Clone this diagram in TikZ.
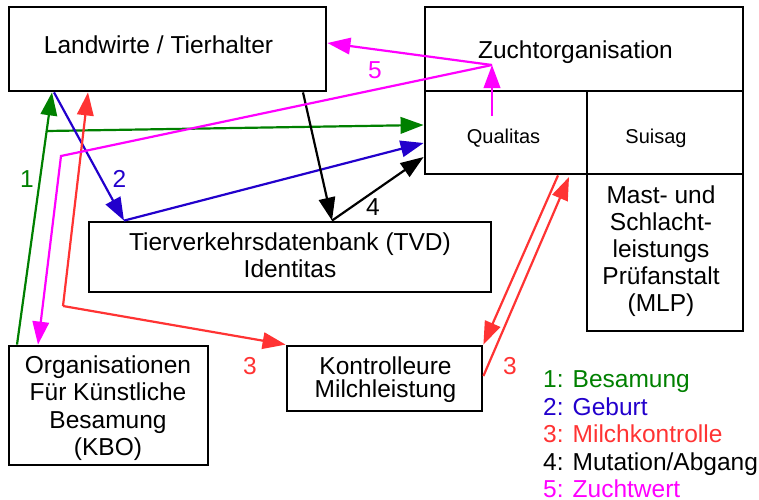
\documentclass[tikz,border=0pt]{standalone}
\usepackage{fontspec}
\setmainfont{Liberation Sans}
\usetikzlibrary{arrows.meta}
\definecolor{cgreen}{RGB}{0,128,0}
\definecolor{cblue}{RGB}{34,0,204}
\definecolor{cred}{RGB}{255,51,51}
\definecolor{cmag}{RGB}{255,0,255}
\begin{document}
\begin{tikzpicture}[x=1pt,y=-1pt,
  box/.style={draw,line width=2.8pt,inner sep=0pt,rectangle},
  txt/.style={font=\fontsize{24.5}{27.5}\selectfont,align=center,inner sep=0pt},
  smalltxt/.style={font=\fontsize{20}{24}\selectfont,inner sep=0pt},
  conn/.style={line width=2.2pt,-{Triangle[length=23pt,width=16.5pt]}},
  numlbl/.style={font=\fontsize{24.5}{27.5}\selectfont,inner sep=0pt},
]
\useasboundingbox (0,0) rectangle (759,499);
% boxes
\node[box,minimum width=317pt,minimum height=84pt] (lw) at (167.5,49) {};
\node[box,minimum width=318pt,minimum height=84pt] (zo) at (584,49) {};
\node[box,minimum width=162pt,minimum height=83pt] (qual) at (506,132.5) {};
\node[box,minimum width=156pt,minimum height=83pt] (sui) at (665,132.5) {};
\node[box,minimum width=156pt,minimum height=157pt] (mlp) at (665,252.5) {};
\node[box,minimum width=402pt,minimum height=70pt] (tvd) at (290,257) {};
\node[box,minimum width=199pt,minimum height=119pt] (kbo) at (108.5,405.5) {};
\node[box,minimum width=195pt,minimum height=65pt] (kon) at (384.5,378.5) {};
% texts
\node[txt,anchor=base] (lwt) at (158.5,53) {Landwirte / Tierhalter};
\node[txt,anchor=base] (zot) at (575.5,58) {Zuchtorganisation};
\node[smalltxt,anchor=base] (qualt) at (503.5,143) {Qualitas};
\node[smalltxt,anchor=base] (suit) at (656,143) {Suisag};
\node[txt,font=\fontsize{24.5}{27}\selectfont] (mlpt) at (661,250.8) {Mast- und\\Schlacht-\\leistungs\\Prüfanstalt\\(MLP)};
\node[txt,font=\fontsize{24.5}{27}\selectfont] (tvdt) at (290,254.9) {Tierverkehrsdatenbank (TVD)\\Identitas};
\node[txt] (kbot) at (108,408) {Organisationen\\Für Künstliche\\Besamung\\(KBO)};
\node[txt,font=\fontsize{24.5}{23.5}\selectfont] (kont) at (385.5,379.5) {Kontrolleure\\Milchleistung};
\node[txt,align=left,anchor=west] (legend) at (543,434.4) {\textcolor{cgreen}{1: Besamung}\\\textcolor{cblue}{2: Geburt}\\\textcolor{cred}{3: Milchkontrolle}\\\textcolor{black}{4: Mutation/Abgang}\\\textcolor{cmag}{5: Zuchtwert}};
% coordinates
\coordinate (gS) at (17,344.6);
\coordinate (gT) at (52,92.4);
\coordinate (gB) at (46.7,131);
\coordinate (gQ) at (423.6,125);
\coordinate (bS) at (54,92.4);
\coordinate (bA) at (124,220.6);
\coordinate (bQ) at (423.6,143);
\coordinate (kS) at (303,92.4);
\coordinate (kA) at (332,220.6);
\coordinate (kQ) at (423.6,157);
\coordinate (rC) at (63,306);
\coordinate (rT) at (88,92.4);
\coordinate (rD1) at (558,175.4);
\coordinate (rU0) at (483.4,376);
\coordinate (rU1) at (569,177);
\coordinate (mQ) at (492,116);
\coordinate (mJ) at (492,65);
\coordinate (mL) at (327.4,43);
\coordinate (mC) at (61,156);
\coordinate (mK) at (38,344.6);
% connectors
\draw[conn,cgreen] (gS) -- (gT);
\draw[conn,cgreen] (gB) -- (gQ);
\draw[conn,cblue] (bS) -- (bA);
\draw[conn,cblue] (bA) -- (bQ);
\draw[conn,black] (kS) -- (kA);
\draw[conn,black] (kA) -- (kQ);
\draw[conn,cred] (rC) -- (rT);
\draw[conn,cred] (rC) -- (kon.north west);
\draw[conn,cred] (rD1) -- (kon.north east);
\draw[conn,cred] (rU0) -- (rU1);
\draw[conn,cmag] (mQ) -- (mJ);
\draw[conn,cmag] (mJ) -- (mL);
\draw[conn,cmag] (mJ) -- (mC) -- (mK);
% labels
\node[numlbl,text=cgreen] (l1) at (27,179) {1};
\node[numlbl,text=cblue] (l2) at (119.5,179) {2};
\node[numlbl,text=cred] (l3a) at (250,366) {3};
\node[numlbl,text=cred] (l3b) at (510,366) {3};
\node[numlbl,text=black] (l4) at (373,207) {4};
\node[numlbl,text=cmag] (l5) at (375,70) {5};
\end{tikzpicture}
\end{document}
